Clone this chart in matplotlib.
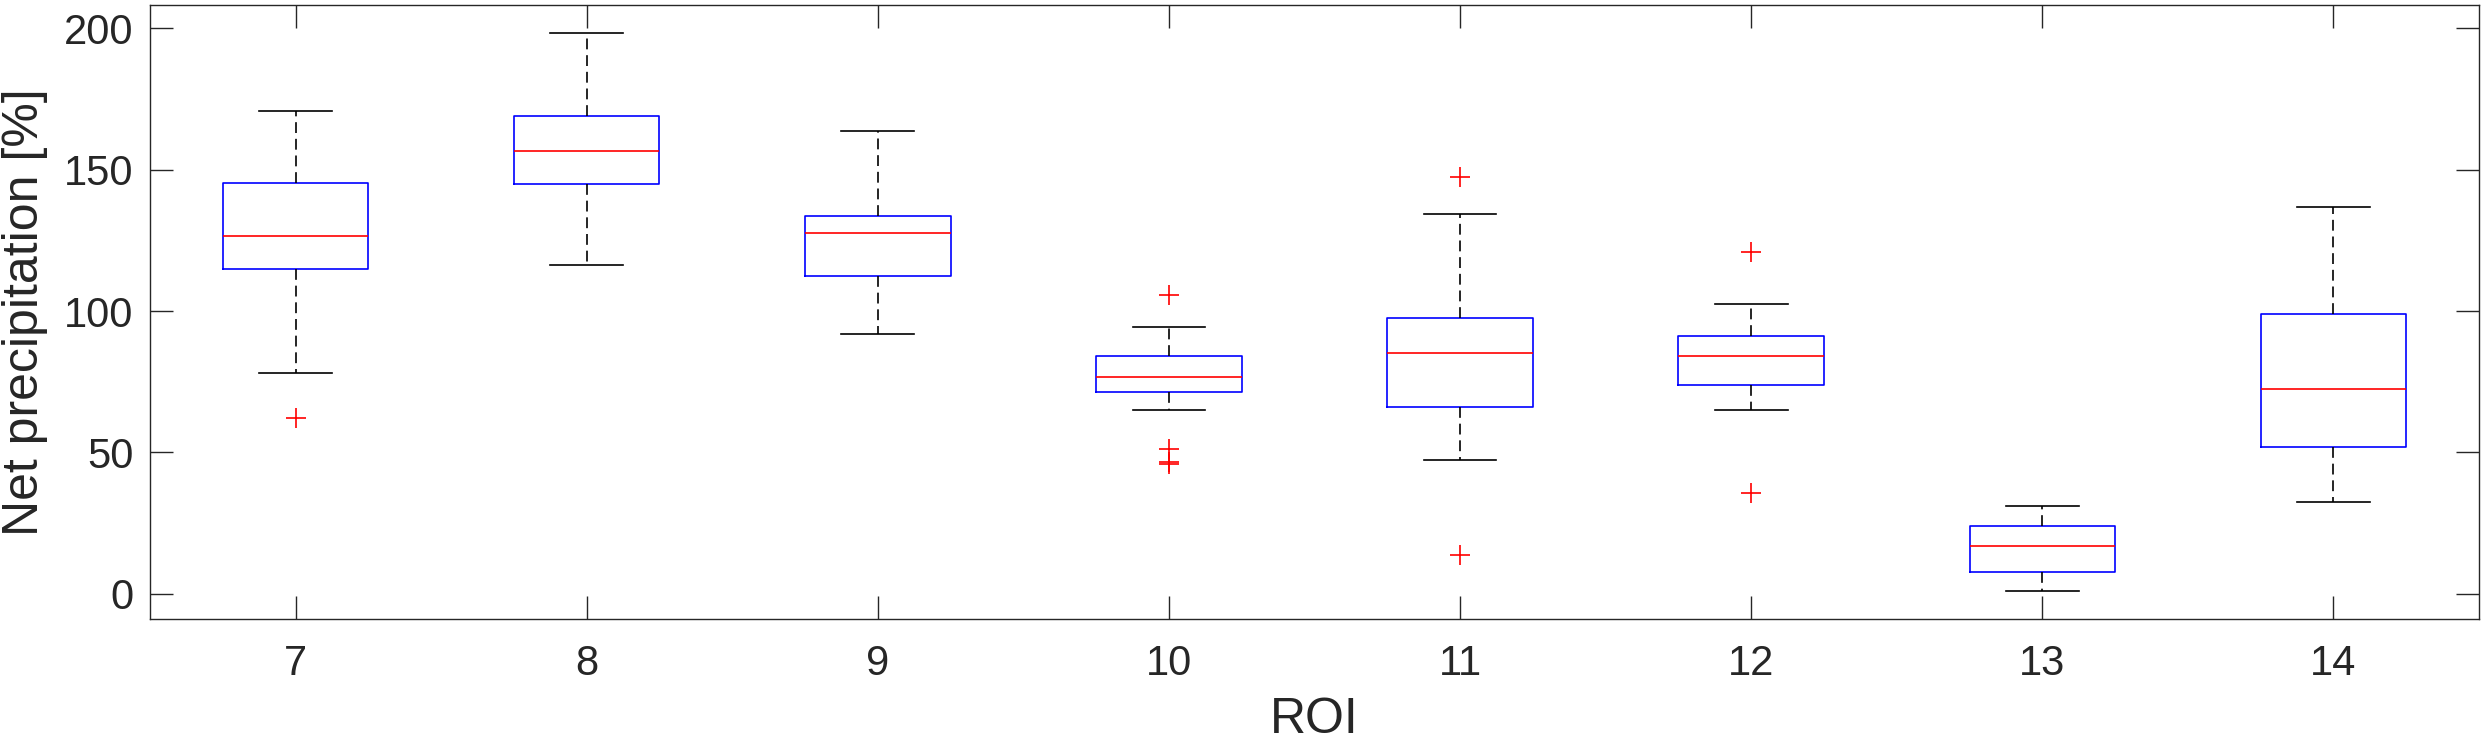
import matplotlib
matplotlib.use('Agg')
import matplotlib.pyplot as plt

plt.rcParams['font.family'] = ['Liberation Sans', 'DejaVu Sans']

# ---- data ----
roi = [7, 8, 9, 10, 11, 12, 13, 14]
q1 = [114.7, 144.8, 112.5, 71.3, 65.9, 73.7, 7.8, 51.8]
med = [126.6, 156.8, 127.6, 76.8, 85.3, 84.0, 16.9, 72.3]
q3 = [145.3, 169.0, 133.6, 84.2, 97.5, 91.3, 23.9, 98.9]
whislo = [78.2, 116.2, 92.0, 64.9, 47.3, 65.1, 0.9, 32.4]
whishi = [170.7, 198.4, 163.8, 94.4, 134.3, 102.4, 31.1, 136.9]
fliers = [[62.1], [], [], [105.6, 51.2, 46.5, 45.7], [147.4, 13.8], [120.8, 35.5], [], []]

stats = []
for i in range(len(roi)):
    stats.append(dict(q1=q1[i], med=med[i], q3=q3[i], whislo=whislo[i],
                      whishi=whishi[i], fliers=fliers[i], label=str(roi[i])))

axcol = '#262626'
lw = 1.2

fig = plt.figure(figsize=(24.83, 7.39), dpi=100)
ax = fig.add_axes([0.0604, 0.1624, 0.938, 0.8308])

ax.bxp(stats, positions=roi, widths=0.5, capwidths=0.25,
       boxprops=dict(color='#0000ff', linewidth=lw),
       medianprops=dict(color='#ff0000', linewidth=lw),
       whiskerprops=dict(color='black', linewidth=lw, linestyle=(0, (6.5, 3.5))),
       capprops=dict(color='black', linewidth=lw),
       flierprops=dict(marker='+', markeredgecolor='#ff0000', markersize=15,
                       markeredgewidth=1.2, linestyle='none'))

ax.set_xlim(6.5, 14.5)
ax.set_ylim(-9, 208.3)
ax.set_yticks([0, 50, 100, 150, 200])
ax.set_xticks(roi)
ax.set_xticklabels([str(r) for r in roi])

ax.tick_params(direction='in', length=16.5, width=1.0, colors=axcol,
               labelsize=30, top=True, right=True)
ax.tick_params(axis='y', pad=12)
ax.tick_params(axis='x', pad=18)
for s in ax.spines.values():
    s.set_color(axcol)
    s.set_linewidth(1.0)

ax.set_xlabel('ROI', fontsize=36, color=axcol)
ax.xaxis.set_label_coords(0.5, -0.127)
ax.set_ylabel('Net precipitation [%]', fontsize=36, color=axcol)
ax.yaxis.set_label_coords(-0.0438, 0.5)

fig.savefig('out.png', dpi=100, facecolor='white')
plt.close()
